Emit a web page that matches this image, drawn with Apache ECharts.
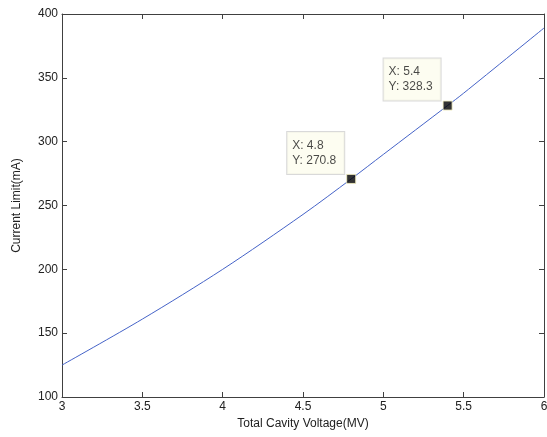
<!DOCTYPE html>
<html>
<head>
<meta charset="utf-8">
<script src="https://cdn.jsdelivr.net/npm/echarts@6/dist/echarts.min.js"></script>
<style>html,body{margin:0;padding:0;background:#fff;}#c{width:547px;height:437px;}</style>
</head>
<body>
<div id="c"></div>
<script>
var voltage = [3, 3.5, 4, 4.5, 4.8, 5, 5.4, 5.5, 6];
var currentLimit = [125, 161, 200, 243, 270.8, 290, 328.3, 338, 389];
var tipX = [4.8, 5.4];
var tipY = [270.8, 328.3];
var xTitle = 'Total Cavity Voltage(MV)';
var yTitle = 'Current Limit(mA)';

var FONT = 'Arial, "Liberation Sans", sans-serif';
var lineData = voltage.map(function (v, i) { return [v, currentLimit[i]]; });
var tipData = tipX.map(function (v, i) { return [v, tipY[i]]; });

var axisCommon = {
  axisLine: { show: true, lineStyle: { color: '#404040', width: 1 } },
  axisTick: { show: true, inside: true, length: 5, lineStyle: { color: '#404040' } },
  splitLine: { show: false },
  axisLabel: { color: '#222', fontSize: 12, fontFamily: FONT, hideOverlap: false }
};
function ax(extra) { return Object.assign({}, JSON.parse(JSON.stringify(axisCommon)), extra); }

var chart = echarts.init(document.getElementById('c'), null, { renderer: 'canvas' });
chart.setOption({
  animation: false,
  backgroundColor: '#fff',
  grid: { left: 62, right: 3, top: 14, bottom: 40, containLabel: false, outerBoundsMode: 'none' },
  xAxis: [
    ax({ type: 'value', min: 3, max: 6, interval: 0.5, position: 'bottom',
      name: xTitle, nameLocation: 'middle', nameGap: 21,
      nameTextStyle: { color: '#222', fontSize: 12, fontFamily: FONT },
      axisLabel: { color: '#222', fontSize: 12, fontFamily: FONT, margin: 4, showMinLabel: true, showMaxLabel: true } }),
    ax({ type: 'value', min: 3, max: 6, interval: 0.5, position: 'top', axisLabel: { show: false } })
  ],
  yAxis: [
    ax({ type: 'value', min: 100, max: 400, interval: 50, position: 'left',
      name: yTitle, nameLocation: 'middle', nameGap: 39,
      nameTextStyle: { color: '#222', fontSize: 12, fontFamily: FONT },
      axisLabel: { color: '#222', fontSize: 12, fontFamily: FONT, margin: 4, showMinLabel: true, showMaxLabel: true } }),
    ax({ type: 'value', min: 100, max: 400, interval: 50, position: 'right', axisLabel: { show: false } })
  ],
  series: [
    {
      type: 'line', data: lineData, smooth: 0.3, showSymbol: false, symbol: 'none',
      lineStyle: { color: '#4563c8', width: 1 }, silent: true, z: 2
    },
    {
      type: 'scatter', data: tipData, symbol: 'rect', symbolSize: 9, z: 5,
      itemStyle: { color: '#000', borderColor: '#f4f0c0', borderWidth: 1 },
      label: {
        show: true,
        position: [-59, 0],
        align: 'left',
        verticalAlign: 'bottom',
        width: 47,
        formatter: function (p) { return 'X: ' + p.value[0] + '\nY: ' + p.value[1].toFixed(1); },
        color: '#1a1a1a', fontSize: 12, fontFamily: FONT, lineHeight: 15,
        backgroundColor: '#fcfcee', borderColor: '#d0d0d0', borderWidth: 1,
        padding: [6, 5, 6, 5]
      }
    }
  ]
});
</script>
</body>
</html>
